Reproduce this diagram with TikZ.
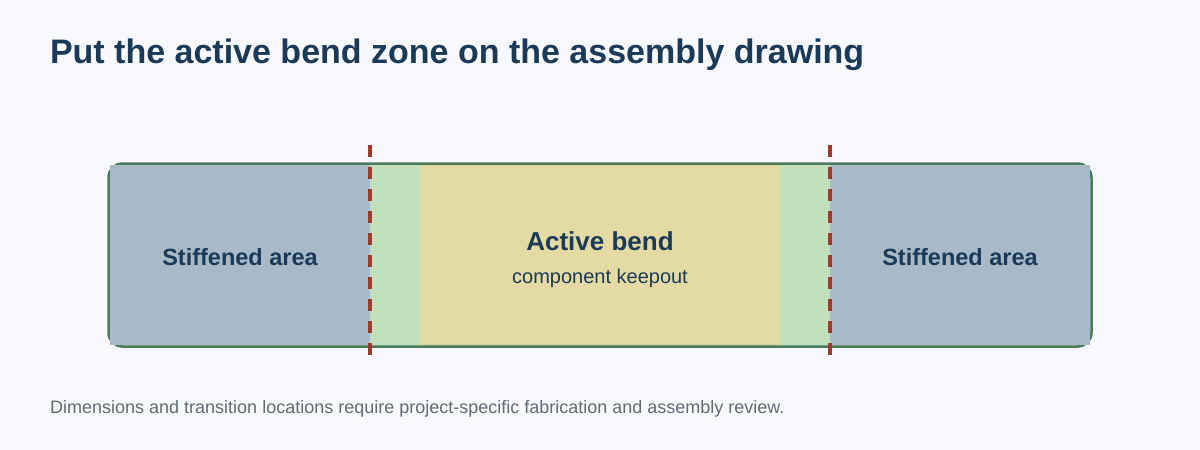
\documentclass[tikz,border=0pt]{standalone}
\usepackage{fontspec}
\setmainfont{Liberation Sans}
\definecolor{bg}{HTML}{F6F8FB}
\definecolor{navy}{HTML}{1B3A57}
\definecolor{stiff}{HTML}{A8BAC8}
\definecolor{flexg}{HTML}{C3E0BD}
\definecolor{flexline}{HTML}{4A7A5A}
\definecolor{bendy}{HTML}{E4DAA4}
\definecolor{bendline}{HTML}{D8CC90}
\definecolor{cut}{HTML}{A0392B}
\definecolor{foot}{HTML}{5F6B78}
\tikzset{
  zone/.style={inner sep=0pt, outer sep=0pt, draw=none, anchor=north west},
  lbl/.style={inner sep=0pt, outer sep=0pt, text=navy},
  cutline/.style={draw=cut, line width=4pt, dash pattern=on 12pt off 10pt},
}
\begin{document}
\begin{tikzpicture}[x=1pt,y=-1pt]
\useasboundingbox[fill=bg] (0,0) rectangle (1200,450);
\node[lbl, anchor=base west, font=\bfseries\fontsize{34}{38}\selectfont] (title) at (50,63) {Put the active bend zone on the assembly drawing};
% flex outline
\node[zone, fill=flexg, draw=flexline, line width=2.5pt, rounded corners=14pt, minimum width=983pt, minimum height=183pt, anchor=center] (flex) at (600,255) {};
\node[zone, fill=stiff, minimum width=260pt, minimum height=180pt] (stl) at (110,165) {};
\node[zone, fill=stiff, minimum width=260pt, minimum height=180pt] (str) at (830,165) {};
\node[zone, fill=bendy, minimum width=360pt, minimum height=180pt] (bend) at (420,165) {};
\draw[bendline, line width=1pt] (bend.north west) ++(0,0.5) -- ([yshift=-0.5pt]bend.north east);
\draw[bendline, line width=1pt] (bend.south west) ++(0,-0.5) -- ([yshift=0.5pt]bend.south east);
% labels
\node[lbl, font=\bfseries\fontsize{23.5}{26}\selectfont] (ltxt) at (240,257) {Stiffened area};
\node[lbl, font=\bfseries\fontsize{23.5}{26}\selectfont] (rtxt) at (960,257) {Stiffened area};
\node[lbl, font=\bfseries\fontsize{26}{30}\selectfont] (btxt) at (600,241) {Active bend};
\node[lbl, font=\fontsize{20}{24}\selectfont] (ktxt) at (600,278) {component keepout};
% transition lines
\coordinate (c1t) at (370,145); \coordinate (c1b) at (370,355);
\coordinate (c2t) at (830,145); \coordinate (c2b) at (830,355);
\draw[cutline] (c1t) -- (c1b);
\draw[cutline] (c2t) -- (c2b);
\node[anchor=base west, inner sep=0pt, text=foot, font=\fontsize{18}{22}\selectfont] (foot) at (50,413) {Dimensions and transition locations require project-specific fabrication and assembly review.};
\end{tikzpicture}
\end{document}
